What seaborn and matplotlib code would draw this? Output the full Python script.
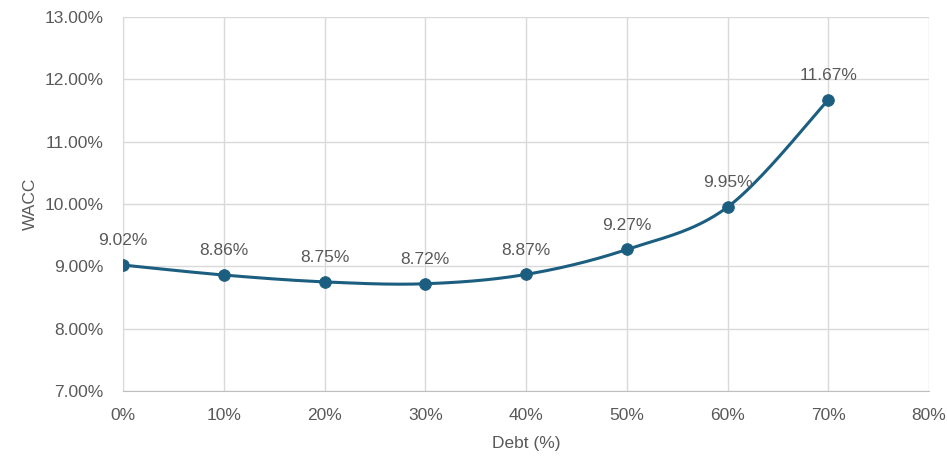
import numpy as np
import matplotlib
matplotlib.use('Agg')
import matplotlib.pyplot as plt
import seaborn as sns
import pandas as pd
from matplotlib.ticker import FuncFormatter

# data
debt = [0, 10, 20, 30, 40, 50, 60, 70]
wacc = [9.02, 8.86, 8.75, 8.72, 8.87, 9.27, 9.95, 11.67]
labels = ['9.02%', '8.86%', '8.75%', '8.72%', '8.87%', '9.27%', '9.95%', '11.67%']

df = pd.DataFrame({'debt': debt, 'wacc': wacc})

sns.set_style('white')
plt.rcParams['font.family'] = ['Liberation Sans', 'DejaVu Sans']

line_col = '#1b5e80'
txt_col = '#595959'
fs = 12.5

fig = plt.figure(figsize=(9.47, 4.61), dpi=100)
ax = fig.add_axes([0.130, 0.152, 0.851, 0.811])

# smoothed line like Excel's (bezier through the points)
x = np.array(debt, dtype=float)
y = np.array(wacc, dtype=float)
xs, ys = [], []
t = np.linspace(0, 1, 40)
for i in range(len(x) - 1):
    p0 = np.array([x[max(i - 1, 0)], y[max(i - 1, 0)]])
    p1 = np.array([x[i], y[i]])
    p2 = np.array([x[i + 1], y[i + 1]])
    p3 = np.array([x[min(i + 2, len(x) - 1)], y[min(i + 2, len(x) - 1)]])
    c1 = p1 + (p2 - p0) / 6
    c2 = p2 - (p3 - p1) / 6
    for tt in t:
        pt = ((1 - tt) ** 3) * p1 + 3 * ((1 - tt) ** 2) * tt * c1 + 3 * (1 - tt) * tt ** 2 * c2 + tt ** 3 * p2
        xs.append(pt[0])
        ys.append(pt[1])
ax.plot(xs, ys, color=line_col, lw=2.2, zorder=3)
sns.scatterplot(data=df, x='debt', y='wacc', ax=ax, color=line_col, s=70,
                edgecolor=line_col, zorder=4, legend=False)

for xi, yi, lab in zip(debt, wacc, labels):
    ax.annotate(lab, (xi, yi), xytext=(0, 12), textcoords='offset points',
                ha='center', va='bottom', fontsize=fs, color=txt_col)

ax.set_xlim(0, 80)
ax.set_ylim(7, 13)
ax.set_xticks(range(0, 81, 10))
ax.set_yticks(np.arange(7, 13.01, 1))
ax.xaxis.set_major_formatter(FuncFormatter(lambda v, p: f'{v:.0f}%'))
ax.yaxis.set_major_formatter(FuncFormatter(lambda v, p: f'{v:.2f}%'))
ax.grid(True, color='#d9d9d9', lw=1)
ax.set_axisbelow(True)
for s in ax.spines.values():
    s.set_visible(False)
ax.spines['bottom'].set_visible(True)
ax.spines['bottom'].set_color('#bfbfbf')
ax.spines['left'].set_visible(True)
ax.spines['left'].set_color('#d9d9d9')
ax.tick_params(axis='x', length=0, labelsize=fs, labelcolor=txt_col, pad=12)
ax.tick_params(axis='y', length=0, labelsize=fs, labelcolor=txt_col, pad=14)
ax.set_xlabel('Debt (%)', fontsize=fs, color=txt_col, labelpad=10)
ax.set_ylabel('WACC', fontsize=fs, color=txt_col, labelpad=5)

fig.savefig('out.png', dpi=100)
